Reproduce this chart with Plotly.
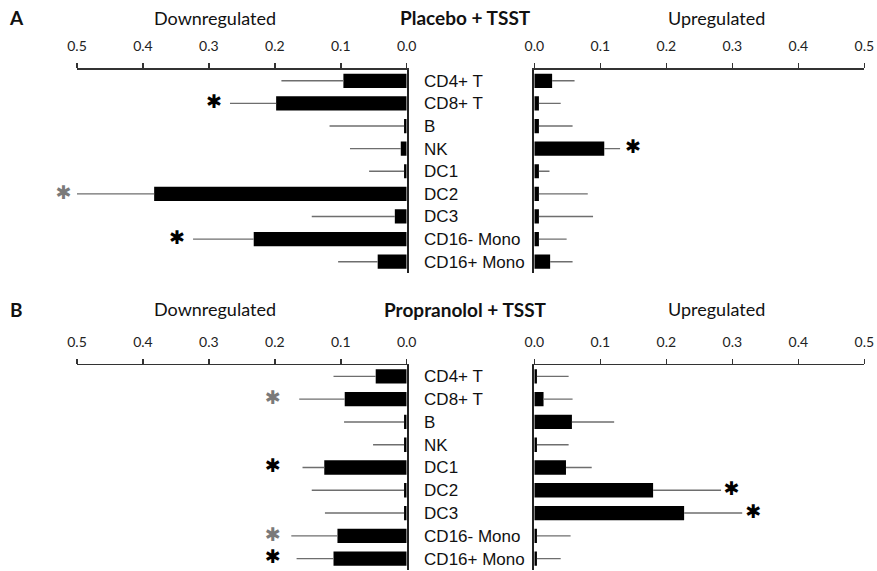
import plotly.graph_objects as go

categories = ["CD4+ T", "CD8+ T", "B", "NK", "DC1", "DC2", "DC3", "CD16- Mono", "CD16+ Mono"]
tick_vals = [0.0, 0.1, 0.2, 0.3, 0.4, 0.5]
tick_text = ["0.0", "0.1", "0.2", "0.3", "0.4", "0.5"]

placebo_down = [0.096, 0.198, 0.004, 0.009, 0.004, 0.383, 0.018, 0.232, 0.044]
placebo_down_err = [0.094, 0.070, 0.113, 0.077, 0.053, 0.117, 0.126, 0.092, 0.060]
placebo_down_sig = ["", "k", "", "", "", "g", "", "k", ""]
placebo_down_star = [None, 0.292, None, None, None, 0.52, None, 0.348, None]

placebo_up = [0.027, 0.007, 0.007, 0.106, 0.007, 0.007, 0.007, 0.007, 0.024]
placebo_up_err = [0.034, 0.033, 0.051, 0.024, 0.016, 0.074, 0.082, 0.042, 0.034]
placebo_up_sig = ["", "", "", "k", "", "", "", "", ""]
placebo_up_star = [None, None, None, 0.150, None, None, None, None, None]

prop_down = [0.047, 0.094, 0.004, 0.004, 0.125, 0.004, 0.004, 0.105, 0.111]
prop_down_err = [0.064, 0.069, 0.091, 0.047, 0.033, 0.140, 0.120, 0.070, 0.056]
prop_down_sig = ["", "g", "", "", "k", "", "", "g", "k"]
prop_down_star = [None, 0.203, None, None, 0.203, None, None, 0.203, 0.203]

prop_up = [0.004, 0.014, 0.057, 0.004, 0.048, 0.180, 0.227, 0.004, 0.004]
prop_up_err = [0.048, 0.044, 0.064, 0.048, 0.039, 0.103, 0.088, 0.051, 0.036]
prop_up_sig = ["", "", "", "", "", "k", "k", "", ""]
prop_up_star = [None, None, None, None, None, 0.299, 0.332, None, None]

W, H = 877, 571
TICK_FONT = dict(family="Lato, Open Sans, sans-serif", size=14, color="#222")
CAT_FONT = dict(family="Liberation Sans, Arial, sans-serif", size=17, color="#111")
ERR_COLOR = "#6e6e6e"
STAR_COLORS = {"k": "#000000", "g": "#7a7a7a"}

# pixel geometry of the panels
L0, L1 = 77.0, 406.7      # left panel: 0.5 .. 0.0
R0, R1 = 534.3, 864.3     # right panel: 0.0 .. 0.5
XMAX = 0.5
left_dom = [L0 / W, L1 / W]
right_dom = [R0 / W, R1 / W]
a_dom = [1 - 273.0 / H, 1 - 69.5 / H]
b_dom = [1 - 570.0 / H, 1 - 365.0 / H]
# wider invisible axes with identical scale, used for the significance stars
left_px_per = (L1 - L0) / XMAX
right_px_per = (R1 - R0) / XMAX
left_star_dom = [0.0, L1 / W]
left_star_range = [L1 / left_px_per, 0]
right_star_dom = [R0 / W, 1.0]
right_star_range = [0, (W - R0) / right_px_per]

fig = go.Figure()

panels = [
    (placebo_down, placebo_down_err, placebo_down_sig, placebo_down_star, "x", "y", "x5"),
    (placebo_up, placebo_up_err, placebo_up_sig, placebo_up_star, "x2", "y2", "x6"),
    (prop_down, prop_down_err, prop_down_sig, prop_down_star, "x3", "y3", "x7"),
    (prop_up, prop_up_err, prop_up_sig, prop_up_star, "x4", "y4", "x8"),
]

for vals, errs, sig, star, xa, ya, xs in panels:
    fig.add_trace(go.Bar(
        x=vals, y=categories, orientation="h", xaxis=xa, yaxis=ya,
        marker=dict(color="#000000", line=dict(width=0)),
        error_x=dict(type="data", array=errs, arrayminus=[0] * len(errs), symmetric=False,
                     width=0, thickness=1.4, color=ERR_COLOR),
        showlegend=False, hoverinfo="skip",
    ))
    sx = [v for v, s in zip(star, sig) if s]
    sy = [c for c, s in zip(categories, sig) if s]
    sc = [STAR_COLORS[s] for s in sig if s]
    fig.add_trace(go.Scatter(
        x=sx, y=sy, xaxis=xs, yaxis=ya, mode="text", text=["\u2731"] * len(sx),
        textposition="middle center", cliponaxis=False,
        textfont=dict(family="DejaVu Sans, sans-serif", size=19, color=sc),
        showlegend=False, hoverinfo="skip",
    ))

def xaxis(dom, anchor, rev):
    return dict(
        domain=dom, anchor=anchor, side="top",
        range=[XMAX, 0] if rev else [0, XMAX],
        tickvals=tick_vals, ticktext=tick_text, tickfont=TICK_FONT,
        showline=True, linecolor="#333", linewidth=1.5,
        ticks="outside", ticklen=5, tickcolor="#333", tickwidth=1.5,
        showgrid=False, zeroline=False, fixedrange=True, ticklabelstandoff=6,
        automargin=False,
    )

def star_axis(dom, anchor, rng):
    return dict(domain=dom, anchor=anchor, range=rng, visible=False,
                showgrid=False, zeroline=False, fixedrange=True, automargin=False)

def yaxis(dom, anchor, side, labels):
    return dict(
        domain=dom, anchor=anchor, side=side, type="category",
        categoryorder="array", categoryarray=categories,
        range=[len(categories) - 0.5, -0.5],
        showline=True, linecolor="#222", linewidth=2,
        showticklabels=labels, tickfont=CAT_FONT, ticks="",
        ticklabelstandoff=12, showgrid=False, zeroline=False, fixedrange=True,
        automargin=False,
    )

fig.update_layout(
    width=W, height=H, margin=dict(l=0, r=0, t=0, b=0, autoexpand=False),
    paper_bgcolor="white", plot_bgcolor="rgba(0,0,0,0)",
    bargap=0.37,
    xaxis=xaxis(left_dom, "y", True),
    xaxis2=xaxis(right_dom, "y2", False),
    xaxis3=xaxis(left_dom, "y3", True),
    xaxis4=xaxis(right_dom, "y4", False),
    xaxis5=star_axis(left_star_dom, "y", left_star_range),
    xaxis6=star_axis(right_star_dom, "y2", right_star_range),
    xaxis7=star_axis(left_star_dom, "y3", left_star_range),
    xaxis8=star_axis(right_star_dom, "y4", right_star_range),
    yaxis=yaxis(a_dom, "x", "right", True),
    yaxis2=yaxis(a_dom, "x2", "left", False),
    yaxis3=yaxis(b_dom, "x3", "right", True),
    yaxis4=yaxis(b_dom, "x4", "left", False),
)

HEAD_FONT = dict(family="Lato, Open Sans, sans-serif", size=18, color="#111")
for label, title, yc in [("A", "Placebo + TSST", 18), ("B", "Propranolol + TSST", 309)]:
    yp = 1 - yc / H
    fig.add_annotation(x=16.5 / W, y=yp, xref="paper", yref="paper", text="<b>" + label + "</b>",
                       showarrow=False, font=dict(family="Lato, Open Sans, sans-serif", size=19, color="#111"),
                       xanchor="center", yanchor="middle")
    fig.add_annotation(x=465 / W, y=yp, xref="paper", yref="paper", text="<b>" + title + "</b>",
                       showarrow=False, font=dict(family="Lato, Open Sans, sans-serif", size=19, color="#111"),
                       xanchor="center", yanchor="middle")
    fig.add_annotation(x=214.5 / W, y=yp, xref="paper", yref="paper", text="Downregulated",
                       showarrow=False, font=HEAD_FONT, xanchor="center", yanchor="middle")
    fig.add_annotation(x=716.5 / W, y=yp, xref="paper", yref="paper", text="Upregulated",
                       showarrow=False, font=HEAD_FONT, xanchor="center", yanchor="middle")

fig.write_html("out.html", config={"displayModeBar": False, "staticPlot": True},
               post_script="document.body.style.margin='0';")
